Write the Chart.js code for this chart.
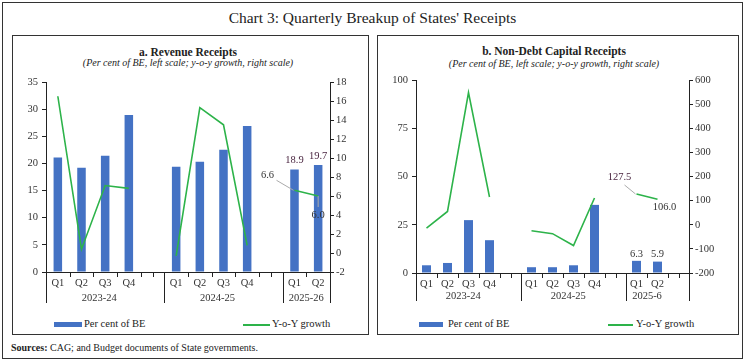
<!DOCTYPE html>
<html>
<head>
<meta charset="utf-8">
<script src="https://cdn.jsdelivr.net/npm/chart.js@4.4.0/dist/chart.umd.min.js"></script>
<style>
  body { margin: 0; width: 745px; height: 362px; background: #fff; overflow: hidden;
         font-family: 'Liberation Serif', serif; color: #222; }
  #frame { position: absolute; left: 2px; top: 2px; width: 739px; height: 355px; border: 1px solid #333; }
  .head { position: absolute; left: 0; top: 9px; width: 745px; text-align: center; font-size: 15.5px; }
  .panel { position: absolute; top: 35px; height: 298px; border: 1px solid #333; }
  .panel canvas { position: absolute; left: 0; top: 0; }
  .ttl { position: absolute; font-weight: bold; font-size: 11.5px; text-align: center; transform: translateX(-50%); white-space: nowrap; }
  .sub { position: absolute; font-style: italic; font-size: 10px; text-align: center; transform: translateX(-50%); white-space: nowrap; }
  .lg { position: absolute; font-size: 10.5px; white-space: nowrap; line-height: 12px; }
  .sw-bar { position: absolute; height: 5px; background: #4472c4; }
  .sw-line { position: absolute; height: 1.5px; background: #2db34a; }
  .src { position: absolute; left: 11px; top: 342px; font-size: 10px; }
</style>
</head>
<body>
<div id="frame"></div>
<div class="head">Chart 3: Quarterly Breakup of States' Receipts</div>

<div class="panel" style="left:12px;width:355px;">
  <div class="ttl" style="left:175px;top:10px;">a. Revenue Receipts</div>
  <div class="sub" style="left:175px;top:21px;">(Per cent of BE, left scale; y-o-y growth, right scale)</div>
  <canvas id="chartA" width="355" height="270"></canvas>
  <div class="sw-bar" style="left:41px;top:286px;width:28px;"></div>
  <div class="lg" style="left:71px;top:282px;">Per cent of BE</div>
  <div class="sw-line" style="left:230px;top:288px;width:27px;"></div>
  <div class="lg" style="left:259px;top:282px;">Y-o-Y growth</div>
</div>

<div class="panel" style="left:377px;width:360px;">
  <div class="ttl" style="left:176px;top:9px;">b. Non-Debt Capital Receipts</div>
  <div class="sub" style="left:176px;top:22px;">(Per cent of BE, left scale; y-o-y growth, right scale)</div>
  <canvas id="chartB" width="360" height="270"></canvas>
  <div class="sw-bar" style="left:41px;top:286px;width:24px;"></div>
  <div class="lg" style="left:70px;top:282px;">Per cent of BE</div>
  <div class="sw-line" style="left:230px;top:288px;width:25px;"></div>
  <div class="lg" style="left:258px;top:282px;">Y-o-Y growth</div>
</div>

<div class="src"><b>Sources:</b> CAG; and Budget documents of State governments.</div>

<script>
// a. Revenue Receipts
const quartersA = ['Q1', 'Q2', 'Q3', 'Q4', '', 'Q1', 'Q2', 'Q3', 'Q4', '', 'Q1', 'Q2'];
const yearsA = ['2023-24', '2024-25', '2025-26'];
const shareA = [21.1, 19.2, 21.4, 28.9, null, 19.4, 20.3, 22.5, 26.9, null, 18.9, 19.7];
const growthA = [16.5, 0.4, 7.1, 6.8, null, -0.3, 15.3, 13.5, 0.8, null, 6.6, 6.0];

// b. Non-Debt Capital Receipts
const quartersB = ['Q1', 'Q2', 'Q3', 'Q4', '', 'Q1', 'Q2', 'Q3', 'Q4', '', 'Q1', 'Q2', ''];
const yearsB = ['2023-24', '2024-25', '2025-6'];
const shareB = [4.0, 5.2, 27.4, 17.0, null, 3.0, 3.0, 4.0, 35.3, null, 6.3, 5.9, null];
const growthB = [-14, 55, 548, 115, null, -25, -37, -86, 111, null, 127.5, 106.0, null];

const BLUE = '#4472c4';
const GREEN = '#2db34a';
const INK = '#333';
const FONT = "'Liberation Serif', serif";

// quarter ticks, year separators and year labels under the x axis
const axisDecor = {
  id: 'axisDecor',
  afterDraw(chart, args, opts) {
    const x = chart.scales.x, area = chart.chartArea, ctx = chart.ctx;
    const cats = chart.data.labels;
    const w = x.getPixelForValue(1) - x.getPixelForValue(0);
    const edge = k => x.getPixelForValue(0) - w / 2 + k * w;
    const base = area.bottom;

    const groups = [];
    let start = null;
    cats.forEach((c, i) => {
      if (c && start === null) start = i;
      if (!c && start !== null) { groups.push({ first: start, last: i - 1, blank: i }); start = null; }
    });
    if (start !== null) groups.push({ first: start, last: cats.length - 1, blank: null });

    const long = new Set(groups.map(g => g.first));
    long.add(cats.length);

    ctx.save();
    ctx.strokeStyle = '#222';
    ctx.lineWidth = 1;
    const tick = (px, len) => {
      const p = Math.round(px) + 0.5;
      ctx.beginPath(); ctx.moveTo(p, base); ctx.lineTo(p, base + len); ctx.stroke();
    };
    for (let k = 0; k <= cats.length; k++) tick(edge(k), long.has(k) ? opts.longLen : 5);
    groups.forEach(g => { if (g.blank !== null) tick(x.getPixelForValue(g.blank), 5); });

    ctx.fillStyle = INK;
    ctx.font = `10.5px ${FONT}`;
    ctx.textAlign = 'center';
    ctx.textBaseline = 'middle';
    groups.forEach((g, n) => {
      const left = edge(g.first);
      const right = n < groups.length - 1 ? x.getPixelForValue(g.blank) : edge(g.last + 1);
      ctx.fillText(opts.years[n], (left + right) / 2, base + opts.yearDy);
    });
    ctx.restore();
  }
};

// value labels on the latest quarters
const valueLabels = {
  id: 'valueLabels',
  afterDatasetsDraw(chart, args, opts) {
    const ctx = chart.ctx;
    ctx.save();
    ctx.font = `10.5px ${FONT}`;
    ctx.textAlign = 'center';
    ctx.textBaseline = 'middle';
    (opts.items || []).forEach(it => {
      const el = chart.getDatasetMeta(it.ds).data[it.i];
      const v = chart.data.datasets[it.ds].data[it.i];
      const tx = el.x + it.dx, ty = el.y + it.dy;
      if (it.lead) {
        ctx.strokeStyle = '#aaa';
        ctx.lineWidth = 1;
        ctx.beginPath();
        ctx.moveTo(tx + it.lead[0], ty + it.lead[1]);
        ctx.lineTo(el.x + it.lead[2], el.y + it.lead[3]);
        ctx.stroke();
      }
      ctx.fillStyle = it.color || INK;
      ctx.fillText(v.toFixed(1), tx, ty);
    });
    ctx.restore();
  }
};

function yAxis(position, min, max, step, width, pad) {
  return {
    position, min, max,
    afterFit(scale) { scale.width = width; },
    ticks: { stepSize: step, color: INK, font: { family: FONT, size: 10.5 }, padding: pad },
    grid: { drawOnChartArea: false, drawTicks: true, tickLength: 4, color: '#222' },
    border: { display: true, color: '#222', width: 1 },
  };
}

function makeChart(canvas, cfg) {
  return new Chart(canvas, {
    data: {
      labels: cfg.labels,
      datasets: [
        {
          type: 'bar', label: 'Per cent of BE', data: cfg.share, yAxisID: 'y',
          backgroundColor: BLUE, barPercentage: 1, categoryPercentage: cfg.barPct, order: 1,
        },
        {
          type: 'line', label: 'Y-o-Y growth', data: cfg.growth, yAxisID: 'y1',
          borderColor: GREEN, borderWidth: 1.6, pointRadius: 0, tension: 0, spanGaps: false, order: 0,
        },
      ],
    },
    options: {
      responsive: false,
      animation: false,
      layout: { padding: { top: cfg.top, left: 0, right: 0, bottom: 0 } },
      plugins: {
        legend: { display: false },
        tooltip: { enabled: false },
        axisDecor: { years: cfg.years, longLen: cfg.longLen, yearDy: cfg.yearDy },
        valueLabels: { items: cfg.items },
      },
      scales: {
        x: {
          offset: true,
          afterFit(scale) { scale.height = cfg.xHeight; },
          ticks: { color: INK, font: { family: FONT, size: 10.5 }, padding: 5, autoSkip: false, maxRotation: 0 },
          grid: { display: false, drawTicks: false },
          border: { display: true, color: '#222', width: 1 },
        },
        y: yAxis('left', cfg.yMin, cfg.yMax, cfg.yStep, cfg.leftW, 4),
        y1: yAxis('right', cfg.rMin, cfg.rMax, cfg.rStep, cfg.rightW, 2),
      },
    },
    plugins: [axisDecor, valueLabels],
  });
}

makeChart(document.getElementById('chartA'), {
  labels: quartersA, share: shareA, growth: growthA, years: yearsA,
  barPct: 0.36, top: 46, xHeight: 34, leftW: 33, rightW: 38,
  yMin: 0, yMax: 35, yStep: 5, rMin: -2, rMax: 18, rStep: 2,
  longLen: 31, yearDy: 26,
  items: [
    { ds: 0, i: 10, dx: 0, dy: -9, color: '#4a2540' },
    { ds: 0, i: 11, dx: 0, dy: -9, color: '#4a2540' },
    { ds: 1, i: 10, dx: -27, dy: -15, lead: [9, 5, -1, 0] },
    { ds: 1, i: 11, dx: 0, dy: 19, lead: [0, -8, 0, 0] },
  ],
});

makeChart(document.getElementById('chartB'), {
  labels: quartersB, share: shareB, growth: growthB, years: yearsB,
  barPct: 0.43, top: 44, xHeight: 33, leftW: 38, rightW: 49,
  yMin: 0, yMax: 100, yStep: 25, rMin: -200, rMax: 600, rStep: 100,
  longLen: 28, yearDy: 23.5,
  items: [
    { ds: 0, i: 10, dx: 0, dy: -7 },
    { ds: 0, i: 11, dx: 0, dy: -7 },
    { ds: 1, i: 10, dx: -17, dy: -17, lead: [5, 8, -1, 0], color: '#4a2540' },
    { ds: 1, i: 11, dx: 7, dy: 8.5 },
  ],
});
</script>
</body>
</html>
